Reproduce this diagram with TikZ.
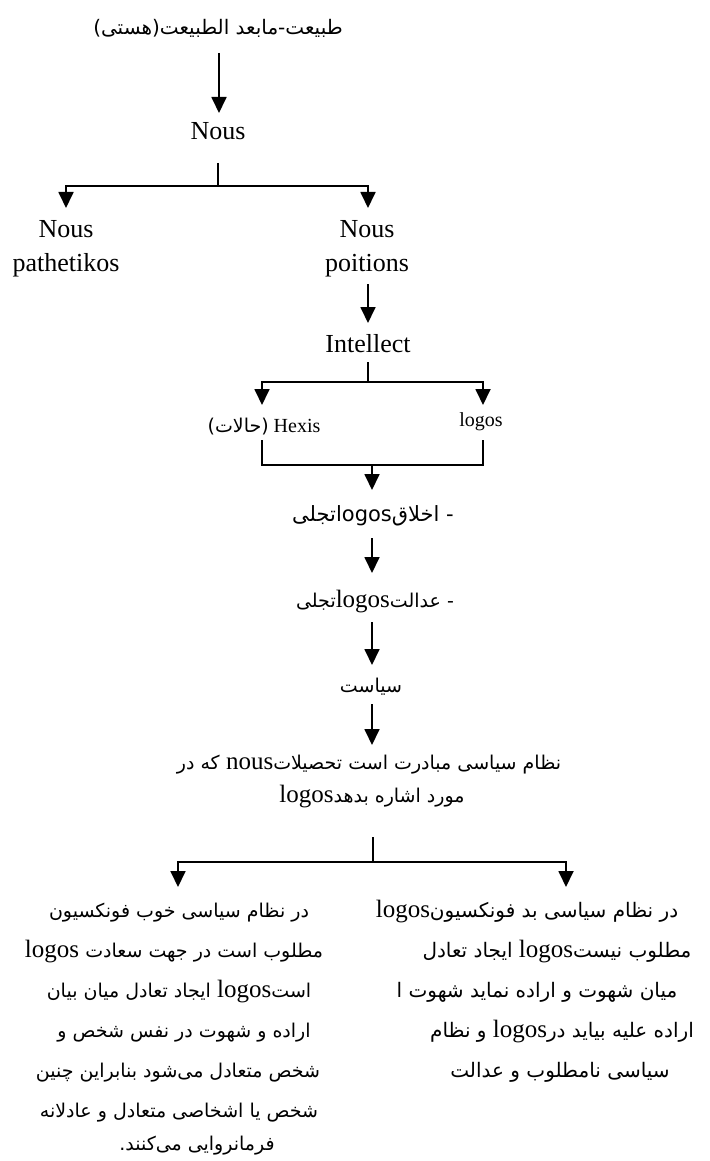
\documentclass[tikz,border=0pt]{standalone}
\usepackage{fontspec}
\setmainfont{Liberation Serif}
\newfontfamily\fa[Script=Arabic]{DejaVu Sans}
\newfontfamily\lsans{DejaVu Sans}
\TeXXeTstate=1
\usetikzlibrary{arrows.meta}
\def\fasz{19}
\newcommand\RL[1]{{\fa\fontsize{\fasz}{\fasz}\selectfont\beginR #1\endR}}
\begin{document}
\begin{tikzpicture}[x=1pt,y=-1pt,
  every node/.style={inner sep=0pt,anchor=base},
  big/.style={font=\fontsize{26}{34}\selectfont, align=center},
  med/.style={font=\fontsize{20}{24}\selectfont},
  body/.style={font=\fontsize{25}{30}\selectfont},
  rbody/.style={font=\fontsize{25}{30}\selectfont\def\fasz{20}},
  conn/.style={line width=1.8pt},
  arr/.style={conn,-{Triangle[length=16pt,width=15pt]}}]
\fill[white] (0,0) rectangle (709,1161);
\useasboundingbox (0,0) rectangle (709,1161);

% nodes
\node (top) at (218,35) {\def\fasz{20}\RL{طبیعت-مابعد الطبیعت(هستی)}};
\node[big] (nous) at (218,140) {Nous};
\node[big] (np) at (66,271) {Nous\\pathetikos};
\node[big] (npo) at (367,271) {Nous\\poitions};
\node[big] (int) at (368,352) {Intellect};
\node[med] (hexis) at (264,432) {\RL{(حالات)} Hexis};
\node[med] (lg) at (481,426) {logos};
\node (akh) at (373,521) {\def\fasz{21}\RL{- اخلاق\beginL{\lsans\fontsize{21}{21}\selectfont logos}\endL تجلی}};
\node[body] (adl) at (375,607) {\RL{- عدالت\beginL{\rmfamily\fontsize{25}{25}\selectfont logos}\endL تجلی}};
\node (siy) at (371,692) {\RL{سیاست}};
\node[body] (p1) at (369,769) {\RL{که در} nous\RL{نظام سیاسی مبادرت است تحصیلات}};
\node[body] (p2) at (372,802) {logos\RL{مورد اشاره بدهد}};

\node[body] (lb1) at (179,917) {\RL{در نظام سیاسی خوب فونکسیون}};
\node[body] (lb2) at (174,957) {logos \RL{مطلوب است در جهت سعادت}};
\node[body] (lb3) at (179,997) {\RL{ایجاد تعادل میان بیان} logos\RL{است}};
\node[body] (lb4) at (184,1037) {\RL{اراده و شهوت در نفس شخص و}};
\node[body] (lb5) at (178,1077) {\RL{شخص متعادل می‌شود بنابراین چنین}};
\node[body] (lb6) at (179,1117) {\RL{شخص یا اشخاصی متعادل و عادلانه}};
\node[body] (lb7) at (197,1150) {\RL{فرمانروایی می‌کنند.}};

\node[rbody] (rb1) at (527,917) {logos\RL{در نظام سیاسی بد فونکسیون}};
\node[rbody] (rb2) at (557,957) {\RL{ایجاد تعادل} logos\RL{مطلوب نیست}};
\node[rbody] (rb3) at (537,997) {\RL{میان شهوت و اراده نماید شهوت ا}};
\node[rbody] (rb4) at (562,1037) {\RL{و نظام} logos\RL{اراده علیه بیاید در}};
\node[rbody] (rb5) at (560,1077) {\RL{سیاسی نامطلوب و عدالت}};

% junctions
\coordinate (j1) at (218,186);
\coordinate (j2) at (368,382);
\coordinate (j3) at (262,465);
\coordinate (j4) at (483,465);
\coordinate (j5) at (372,465);
\coordinate (j6) at (373,862);

% connectors
\draw[arr] ([xshift=1pt,yshift=-18pt]top.base) -- ([xshift=1pt,yshift=27pt]nous.base);
\draw[conn] ([yshift=-23pt]nous.base) -- (j1);
\draw[arr] (j1) -| ([yshift=63pt]np.base);
\draw[arr] (j1) -| ([xshift=1pt,yshift=63pt]npo.base);
\draw[arr] ([xshift=1pt,yshift=-13pt]npo.base) -- ([yshift=29pt]int.base);
\draw[conn] ([yshift=-10pt]int.base) -- (j2);
\draw[arr] (j2) -| ([xshift=-2pt,yshift=27pt]hexis.base);
\draw[arr] (j2) -| ([xshift=2pt,yshift=21pt]lg.base);
\draw[conn] ([xshift=-2pt,yshift=-8pt]hexis.base) -- (j3) -- (j4) -- ([xshift=2pt,yshift=-14pt]lg.base);
\draw[arr] (j5) -- ([xshift=-1pt,yshift=31pt]akh.base);
\draw[arr] ([xshift=-1pt,yshift=-17pt]akh.base) -- ([xshift=-3pt,yshift=34pt]adl.base);
\draw[arr] ([xshift=-3pt,yshift=-15pt]adl.base) -- ([xshift=1pt,yshift=27pt]siy.base);
\draw[arr] ([xshift=1pt,yshift=-12pt]siy.base) -- ([xshift=3pt,yshift=24pt]p1.base);
\draw[conn] ([xshift=1pt,yshift=-35pt]p2.base) -- (j6);
\draw[arr] (j6) -| ([xshift=-1pt,yshift=30pt]lb1.base);
\draw[arr] (j6) -| ([xshift=39pt,yshift=30pt]rb1.base);
\end{tikzpicture}
\end{document}
